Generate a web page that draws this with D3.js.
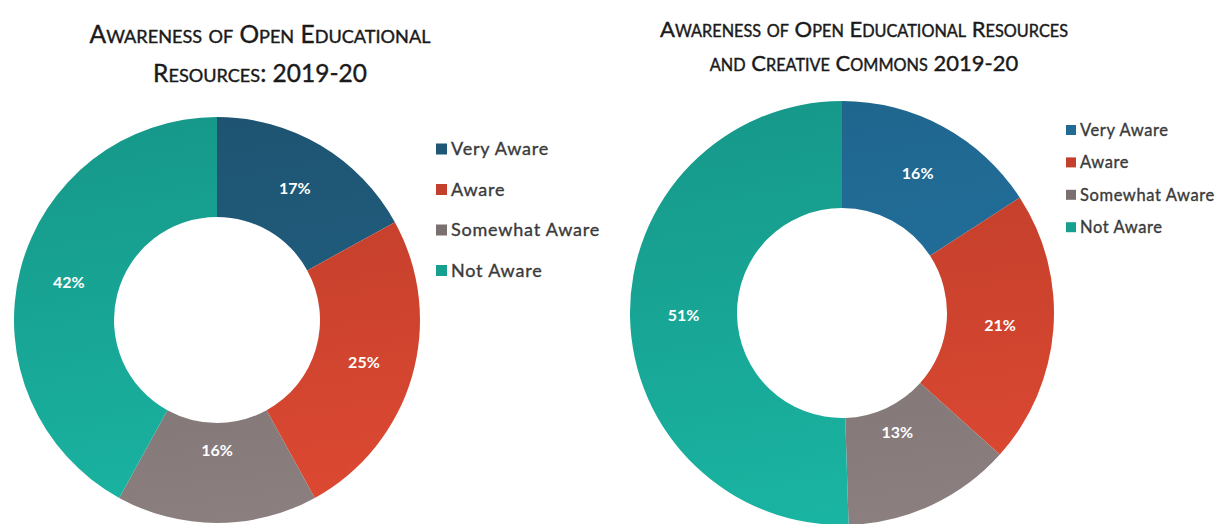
<!DOCTYPE html>
<html>
<head>
<meta charset="utf-8">
<script src="https://cdn.jsdelivr.net/npm/d3@7"></script>
<style>
  html, body { margin: 0; padding: 0; background: #fff; }
  svg { display: block; }
</style>
</head>
<body>
<div id="chart"></div>
<script>
// categories and values
var categories = ['Very Aware', 'Aware', 'Somewhat Aware', 'Not Aware']
var oerValues = [17, 25, 16, 42]
var ccValues = [16, 21, 13, 51]

var oerTitle = ['Awareness of Open Educational', 'Resources: 2019-20']
var ccTitle = ['Awareness of Open Educational Resources', 'and Creative Commons 2019-20']

var oerColors = ['#1f5877', '#c4402c', '#7b7070', '#17a090']
var ccColors = ['#206a94', '#c4402c', '#7b7070', '#17a090']

var width = 1221, height = 524
var font = 'Lato, "Open Sans", sans-serif'

var svg = d3.select('#chart').append('svg')
  .attr('width', width)
  .attr('height', height)

var defs = svg.append('defs')

// small caps title: lower case drawn as smaller capitals
function smallCaps(textSel, str, size) {
  var runs = []
  str.split('').forEach(function(ch) {
    var small = ch !== ch.toUpperCase()
    var last = runs[runs.length - 1]
    if (last && last.small === small) last.t += ch
    else runs.push({small: small, t: ch})
  })
  runs.forEach(function(r) {
    textSel.append('tspan')
      .attr('font-size', r.small ? size * 0.74 : size)
      .text(r.small ? r.t.toUpperCase() : r.t)
  })
}

function donut(opt) {
  var g = svg.append('g')
    .attr('transform', 'translate(' + opt.cx + ',' + opt.cy + ')')

  var pie = d3.pie().sort(null).value(function(d) { return d })
  var arc = d3.arc().innerRadius(opt.inner).outerRadius(opt.outer)
  var mid = (opt.inner + opt.outer) / 2
  var labelArc = d3.arc().innerRadius(mid).outerRadius(mid)

  opt.colors.forEach(function(c, i) {
    var grad = defs.append('linearGradient')
      .attr('id', opt.id + '-g' + i)
      .attr('gradientUnits', 'userSpaceOnUse')
      .attr('x1', 0).attr('y1', -opt.outer)
      .attr('x2', opt.outer * 0.3).attr('y2', opt.outer)
    grad.append('stop').attr('offset', '0%').attr('stop-color', d3.color(c).darker(0.12))
    grad.append('stop').attr('offset', '100%').attr('stop-color', d3.color(c).brighter(0.35))
  })

  var arcs = pie(opt.values)

  g.selectAll('path.slice')
    .data(arcs)
    .enter().append('path')
    .attr('class', 'slice')
    .attr('d', arc)
    .attr('fill', function(d, i) { return 'url(#' + opt.id + '-g' + i + ')' })

  // labels near the cut-off bottom edge sit a bit further in
  g.selectAll('text.pct')
    .data(arcs)
    .enter().append('text')
    .attr('class', 'pct')
    .attr('transform', function(d) {
      var c = labelArc.centroid(d)
      if (c[1] > opt.maxLabelY) c = [c[0] * opt.maxLabelY / c[1], opt.maxLabelY]
      return 'translate(' + c + ')'
    })
    .attr('text-anchor', 'middle')
    .attr('dy', '0.35em')
    .attr('fill', '#fff')
    .attr('font-family', font)
    .attr('font-weight', 'bold')
    .attr('font-size', 16)
    .text(function(d) { return d.data + '%' })

  // title
  opt.title.forEach(function(line, i) {
    var t = svg.append('text')
      .attr('x', opt.titleX)
      .attr('y', opt.titleY[i])
      .attr('text-anchor', 'middle')
      .attr('fill', '#1a1a1a')
      .attr('stroke', '#1a1a1a')
      .attr('stroke-width', 0.4)
      .attr('font-family', font)
    smallCaps(t, line, opt.titleSize)
  })

  // legend
  var leg = svg.append('g')
    .attr('transform', 'translate(' + opt.legX + ',' + opt.legY + ')')
  var items = leg.selectAll('g.item')
    .data(categories)
    .enter().append('g')
    .attr('class', 'item')
    .attr('transform', function(d, i) { return 'translate(0,' + (i * opt.legStep) + ')' })
  items.append('rect')
    .attr('x', 0).attr('y', -opt.sq / 2)
    .attr('width', opt.sq).attr('height', opt.sq)
    .attr('fill', function(d, i) { return opt.colors[i] })
  items.append('text')
    .attr('x', opt.sq + 4)
    .attr('dy', '0.35em')
    .attr('fill', '#3a3a3a')
    .attr('stroke', '#3a3a3a')
    .attr('stroke-width', 0.35)
    .attr('font-family', font)
    .attr('font-size', opt.legSize)
    .attr('letter-spacing', opt.legSpacing)
    .text(function(d) { return d })
}

donut({
  id: 'oer', values: oerValues, colors: oerColors, title: oerTitle,
  cx: 217, cy: 320, inner: 103, outer: 203, maxLabelY: 130,
  titleX: 260, titleY: [43, 82], titleSize: 24.5,
  legX: 436, legY: 149, legStep: 40.5, sq: 11, legSize: 18, legSpacing: 0.8
})

donut({
  id: 'cc', values: ccValues, colors: ccColors, title: ccTitle,
  cx: 842, cy: 313, inner: 105, outer: 212, maxLabelY: 119,
  titleX: 864, titleY: [37, 71], titleSize: 22,
  legX: 1066, legY: 130, legStep: 32.4, sq: 10, legSize: 16.5, legSpacing: 0.6
})
</script>
</body>
</html>
